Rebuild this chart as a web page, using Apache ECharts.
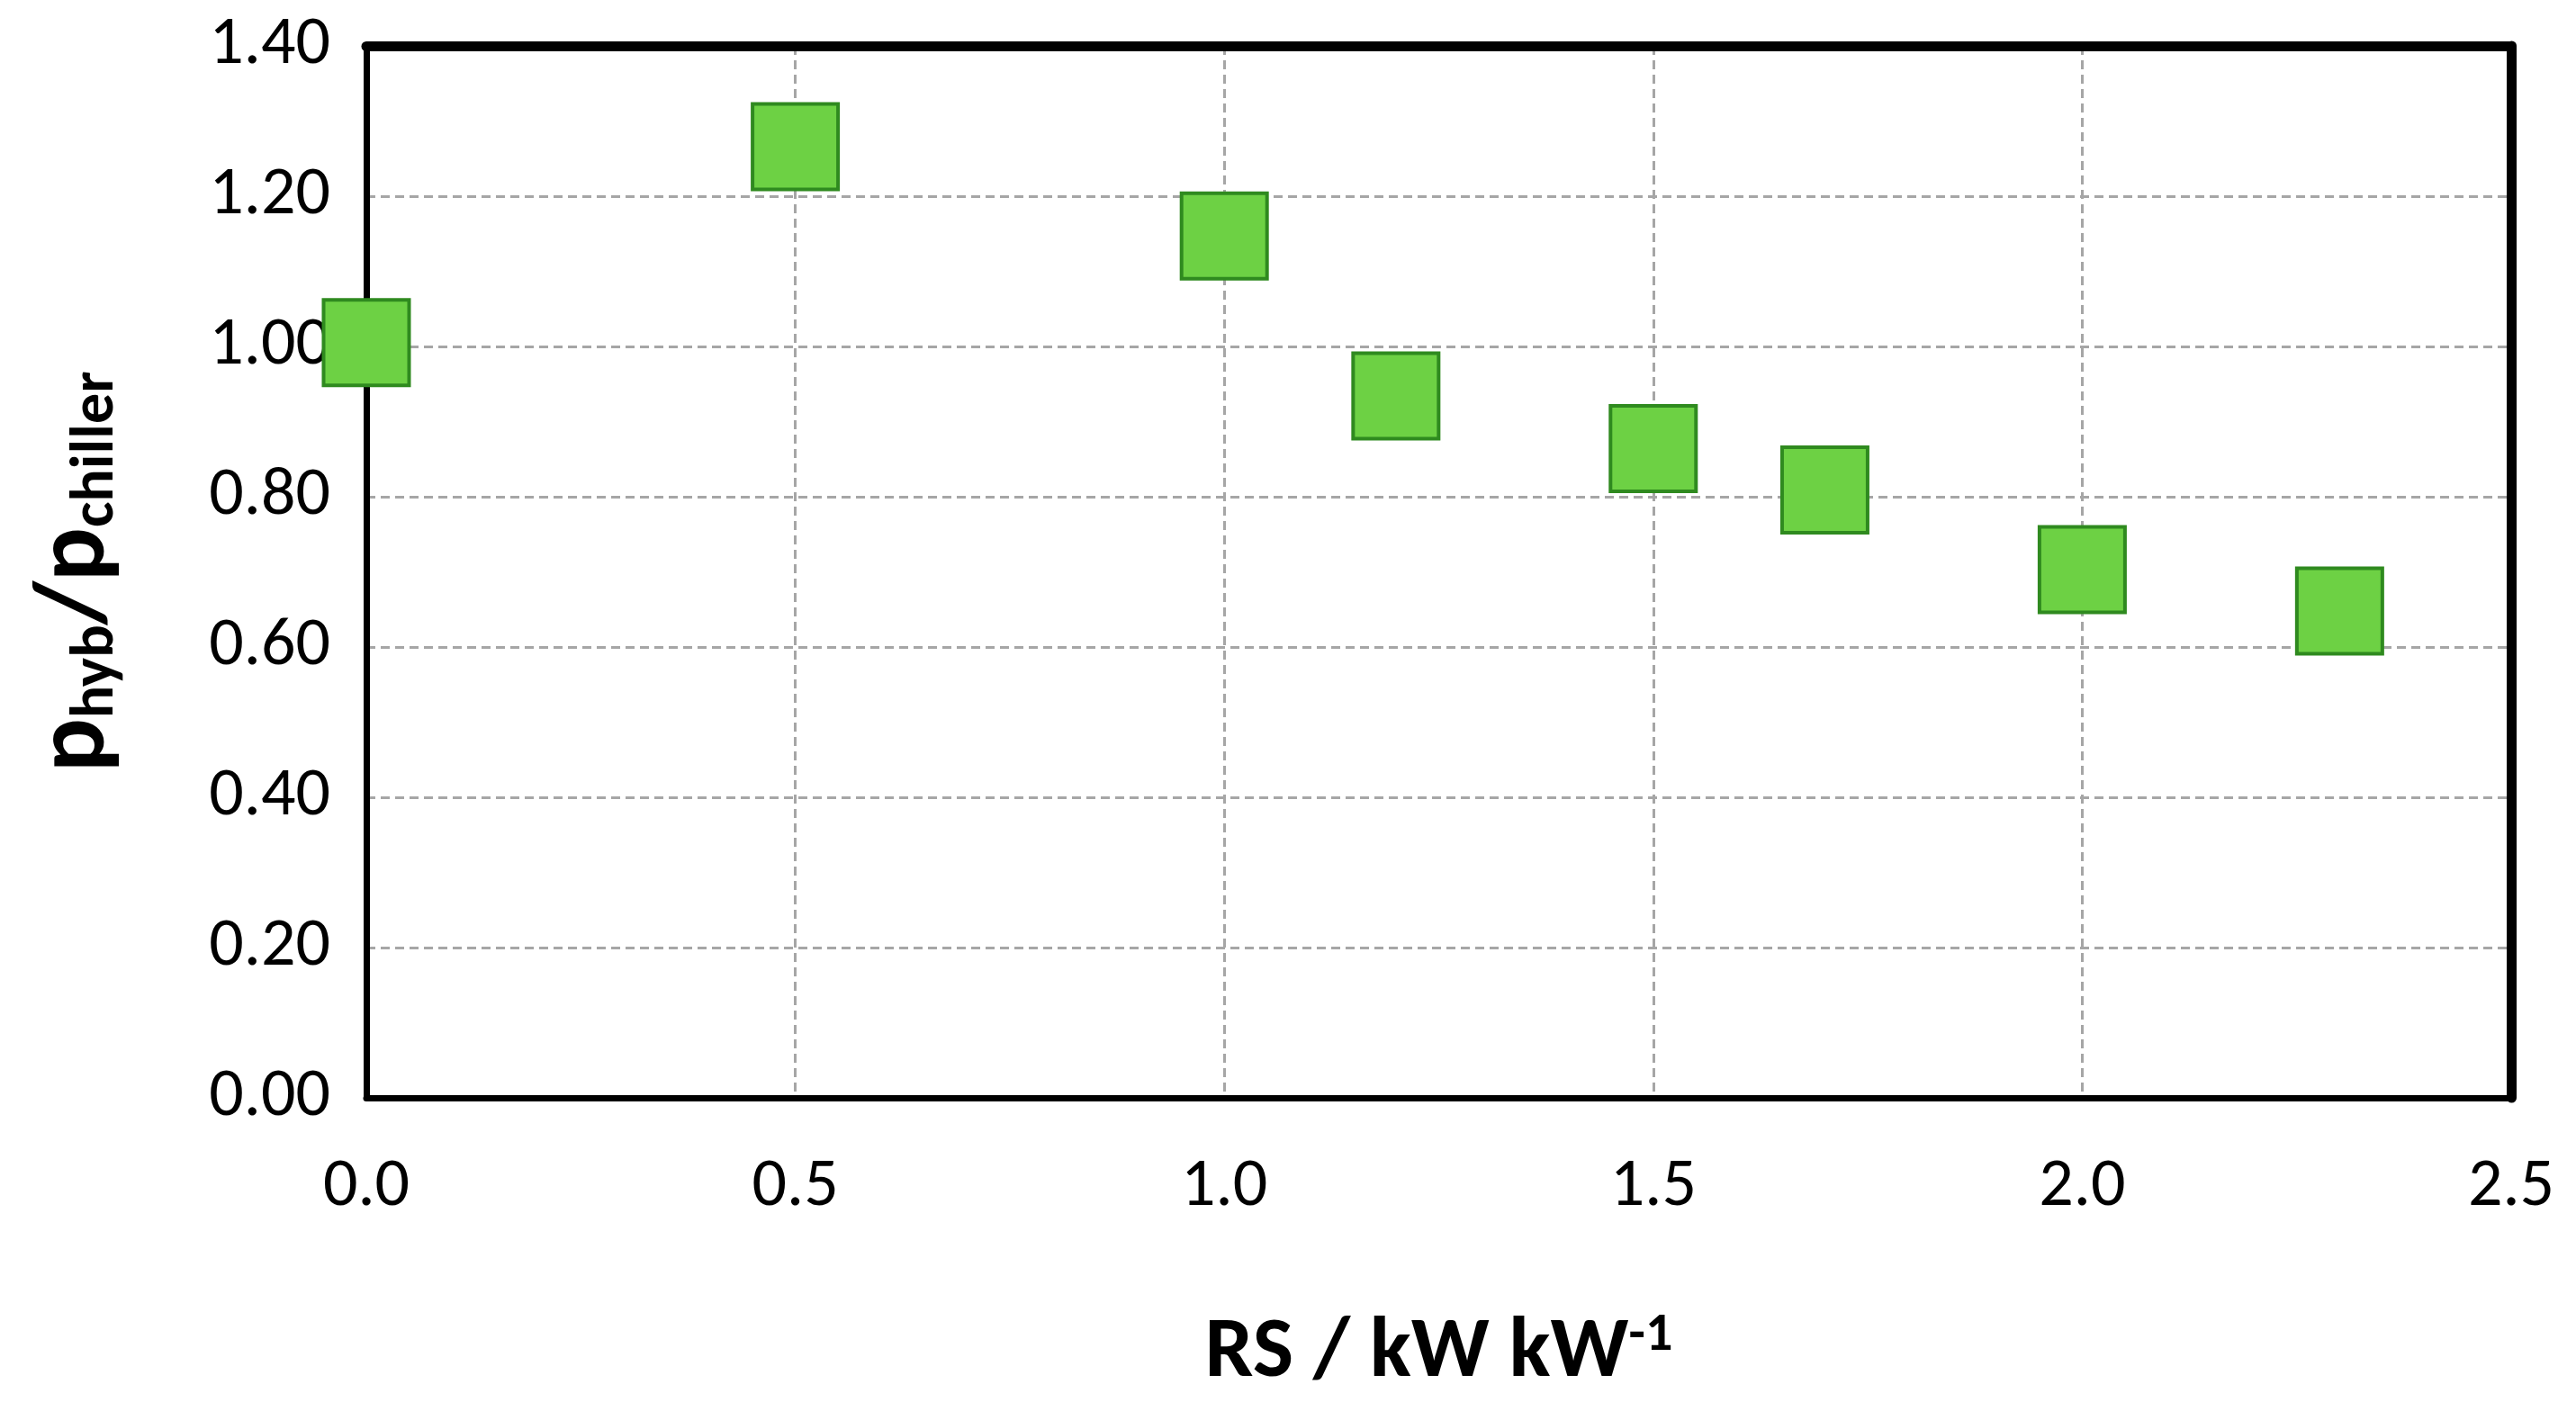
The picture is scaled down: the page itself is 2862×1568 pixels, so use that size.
<!DOCTYPE html>
<html><head><meta charset="utf-8">
<script src="https://cdn.jsdelivr.net/npm/echarts@6/dist/echarts.min.js"></script>
<style>html,body{margin:0;padding:0;background:#fff}#c{width:2862px;height:1568px}</style>
</head><body><div id="c"></div>
<script>
const xValues = [0.0, 0.5, 1.0, 1.2, 1.5, 1.7, 2.0, 2.3];
const yValues = [1.005, 1.266, 1.147, 0.934, 0.864, 0.809, 0.703, 0.648];
const F = "Carlito, 'Liberation Sans Narrow', 'Open Sans', sans-serif";
const chart = echarts.init(document.getElementById('c'));
chart.setOption({
  animation: false,
  grid: {left: 407, right: 72, top: 51, bottom: 348},
  xAxis: [{
    type: 'value', min: 0, max: 2.5, interval: 0.5,
    axisLine: {show: true, lineStyle: {color: '#000', width: 7}},
    axisTick: {show: false},
    splitLine: {show: true, lineStyle: {color: '#a6a6a6', type: [10, 6], width: 3}},
    axisLabel: {fontFamily: F, fontSize: 76, color: '#000', margin: 62, formatter: v => v.toFixed(1)},
    name: '{t|RS / kW kW}{s|-1}', nameLocation: 'middle', nameGap: 235,
    nameTextStyle: {rich: {
      t: {fontFamily: F, fontSize: 96, fontWeight: 'bold', color: '#000'},
      s: {fontFamily: F, fontSize: 60, fontWeight: 'bold', color: '#000', verticalAlign: 'top', padding: [0,0,40,0]}
    }}
  }, {
    type: 'value', min: 0, max: 2.5, position: 'top',
    axisLine: {show: true, onZero: false, lineStyle: {color: '#000', width: 11}},
    axisTick: {show: false}, axisLabel: {show: false}, splitLine: {show: false}
  }],
  yAxis: [{
    type: 'value', min: 0, max: 1.4, interval: 0.2,
    axisLine: {show: true, lineStyle: {color: '#000', width: 7}},
    axisTick: {show: false},
    splitLine: {show: true, lineStyle: {color: '#a6a6a6', type: [10, 6], width: 3}},
    axisLabel: {fontFamily: F, fontSize: 76, color: '#000', margin: 40, formatter: v => v.toFixed(2)},
    name: '{t|p}{s|hyb}{t|/p}{s|chiller}', nameLocation: 'middle', nameGap: 265,
    nameTextStyle: {rich: {
      t: {fontFamily: F, fontSize: 112, fontWeight: 'bold', color: '#000'},
      s: {fontFamily: F, fontSize: 68, fontWeight: 'bold', color: '#000', verticalAlign: 'bottom', padding: [34,0,0,0]}
    }}
  }, {
    type: 'value', min: 0, max: 1.4, position: 'right',
    axisLine: {show: true, onZero: false, lineStyle: {color: '#000', width: 11}},
    axisTick: {show: false}, axisLabel: {show: false}, splitLine: {show: false}
  }],
  series: [{
    type: 'scatter', symbol: 'rect', symbolSize: 95,
    data: xValues.map((x, i) => [x, yValues[i]]),
    itemStyle: {color: '#6dd144', borderColor: '#2f8a1f', borderWidth: 4, opacity: 1}
  }, {
    type: 'scatter', xAxisIndex: 1, yAxisIndex: 1, data: [], silent: true
  }]
});
</script></body></html>
